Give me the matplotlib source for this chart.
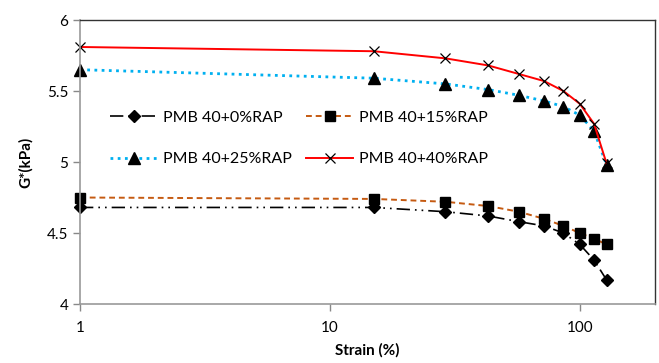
import matplotlib.pyplot as plt
from matplotlib.ticker import FixedLocator, FixedFormatter, NullLocator

plt.rcParams['font.family'] = ['Lato', 'DejaVu Sans']

strain = [1, 15, 29, 43, 57, 72, 86, 100, 114, 128]
g_0 = [4.68, 4.68, 4.65, 4.62, 4.58, 4.55, 4.50, 4.42, 4.31, 4.17]
g_15 = [4.75, 4.74, 4.72, 4.69, 4.65, 4.60, 4.55, 4.50, 4.46, 4.42]
g_25 = [5.65, 5.59, 5.55, 5.51, 5.47, 5.43, 5.39, 5.33, 5.22, 4.98]
g_40 = [5.81, 5.78, 5.73, 5.68, 5.62, 5.57, 5.50, 5.41, 5.27, 4.99]

labels = ['PMB 40+0%RAP', 'PMB 40+15%RAP', 'PMB 40+25%RAP', 'PMB 40+40%RAP']
y_ticks = [4, 4.5, 5, 5.5, 6]
y_tick_labels = ['4', '4.5', '5', '5.5', '6']
x_ticks = [1, 10, 100]
x_tick_labels = ['1', '10', '100']

fig = plt.figure(figsize=(6.59, 3.63), dpi=100)
ax = fig.add_axes([0.1214, 0.1625, 0.8725, 0.7824])

l0, = ax.plot(strain, g_0, color='black', lw=1.2, ls=(0, (8, 3, 1, 3, 1, 3)),
              marker='D', ms=6, mfc='black', mec='black', label=labels[0],
              clip_on=False)
l15, = ax.plot(strain, g_15, color='#C55A11', lw=1.4, ls=(0, (3, 2)),
               marker='s', ms=7.5, mfc='black', mec='black', label=labels[1],
               clip_on=False)
l25, = ax.plot(strain, g_25, color='#00B0F0', lw=2.0, ls=(0, (1, 1.6)),
               marker='^', ms=8.5, mfc='black', mec='black', label=labels[2],
               clip_on=False)
l40, = ax.plot(strain, g_40, color='#FF0000', lw=1.4, ls='-',
               marker='x', ms=7, mfc='black', mec='black', mew=0.9, label=labels[3],
               clip_on=False)

ax.set_xscale('log')
ax.set_xlim(1, 200)
ax.set_ylim(4, 6)
ax.xaxis.set_major_locator(FixedLocator(x_ticks))
ax.xaxis.set_major_formatter(FixedFormatter(x_tick_labels))
ax.xaxis.set_minor_locator(NullLocator())
ax.set_yticks(y_ticks)
ax.set_yticklabels(y_tick_labels)
ax.tick_params(axis='both', labelsize=11, color='#888888', length=5, width=1,
               labelcolor='black')
ax.tick_params(axis='x', pad=7)

for side in ['left', 'bottom']:
    ax.spines[side].set_color('#999999')
    ax.spines[side].set_linewidth(1.2)
for side in ['top', 'right']:
    ax.spines[side].set_color('#333333')
    ax.spines[side].set_linewidth(1.0)

ax.set_xlabel('Strain (%)', fontsize=11, fontweight='bold', labelpad=6)
ax.set_ylabel('G*(kPa)', fontsize=11, fontweight='bold', labelpad=10)

# legend rows: 0% / 15% on top, 25% / 40% below
ax.legend([l0, l25, l15, l40], [labels[0], labels[2], labels[1], labels[3]],
          loc='center left', bbox_to_anchor=(0.028, 0.583), ncol=2, frameon=False,
          fontsize=11.5, handlelength=2.9, columnspacing=0.9, labelspacing=1.7,
          handletextpad=0.4, borderpad=0.4)

fig.savefig('out.png', dpi=100)
